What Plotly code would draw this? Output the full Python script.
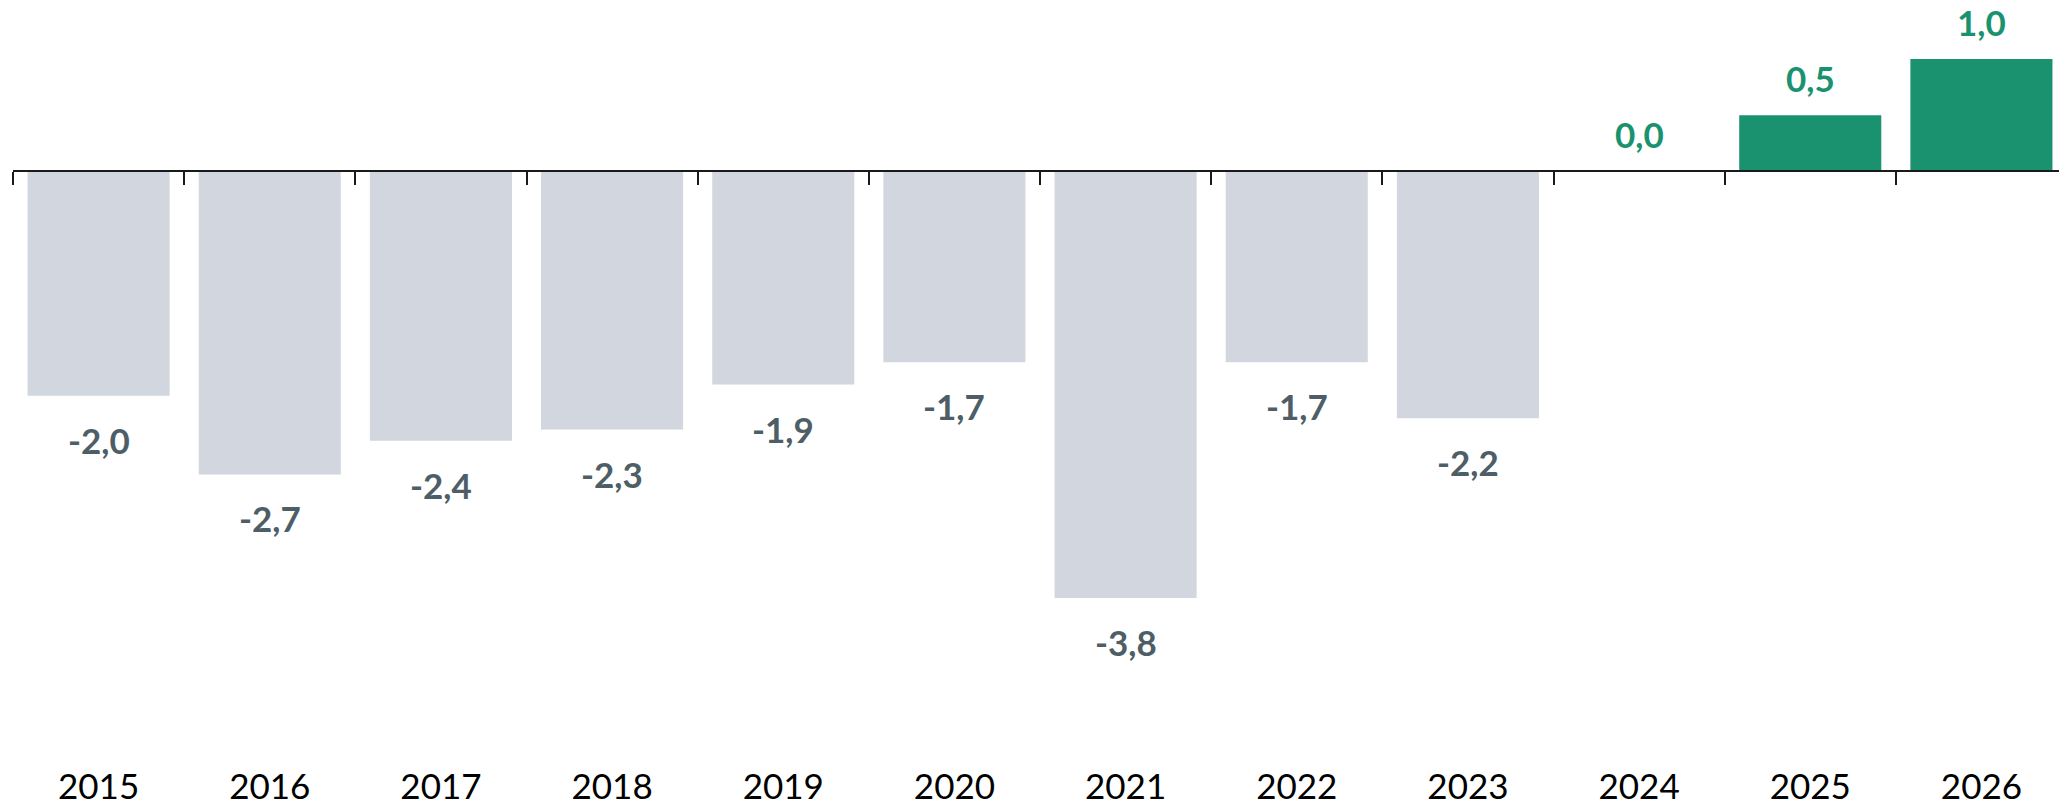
import plotly.graph_objects as go

# --- DATA ---
YEARS = ["2015", "2016", "2017", "2018", "2019", "2020",
         "2021", "2022", "2023", "2024", "2025", "2026"]
VALUES = [-2.0, -2.7, -2.4, -2.3, -1.9, -1.7, -3.8, -1.7, -2.2, 0.0, 0.5, 1.0]
FORECAST_FROM = "2024"  # these years and after are drawn in green

# --- STYLE ---
GREY_BAR = "#D1D6DF"
GREY_TEXT = "#4E5E67"
GREEN = "#1A9270"
FONT = "Lato"
Y_RANGE = [-5.271, 1.455]

is_forecast = [y >= FORECAST_FROM for y in YEARS]
bar_colors = [GREEN if f else GREY_BAR for f in is_forecast]
text_colors = [GREEN if f else GREY_TEXT for f in is_forecast]

fig = go.Figure()

fig.add_trace(go.Bar(
    x=YEARS, y=VALUES,
    marker_color=bar_colors, marker_line_width=0,
    hoverinfo="skip", showlegend=False,
))

# dummy trace so the zero-line axis (xaxis2) gets drawn
fig.add_trace(go.Scatter(
    x=[-0.5, len(YEARS) - 0.5], y=[0, 0], xaxis="x2",
    mode="lines", line=dict(width=0), hoverinfo="skip", showlegend=False,
))

# data labels, comma decimals like the original
# (category axis: annotation x must be the category index)
for i, (v, col) in enumerate(zip(VALUES, text_colors)):
    fig.add_annotation(
        x=i, y=v, text=f"<b>{v:.1f}</b>".replace(".", ","),
        showarrow=False, yanchor="middle",
        yshift=37 if v >= 0 else -44,
        font=dict(family=FONT, size=35, color=col),
    )

zero_pos = (0 - Y_RANGE[0]) / (Y_RANGE[1] - Y_RANGE[0])

# page body has an 8px margin, so the figure is a bit smaller than the window
fig.update_layout(
    width=2059, height=798,
    margin=dict(l=5, r=0, t=0, b=40),
    paper_bgcolor="white", plot_bgcolor="white",
    bargap=0.17,
    font=dict(family=FONT, size=35, color="black"),
    xaxis=dict(
        type="category", showline=False, showgrid=False, ticks="",
        tickfont=dict(family=FONT, size=35, color="black"),
        range=[-0.5, len(YEARS) - 0.5],
    ),
    xaxis2=dict(
        overlaying="x", anchor="free", position=zero_pos,
        range=[-0.5, len(YEARS) - 0.5],
        tickvals=[i - 0.5 for i in range(len(YEARS))],
        showticklabels=False, showgrid=False, zeroline=False,
        showline=True, linecolor="#1A1A1A", linewidth=2,
        ticks="outside", ticklen=13, tickwidth=2, tickcolor="#1A1A1A",
    ),
    yaxis=dict(range=Y_RANGE, visible=False, showgrid=False, zeroline=False),
)

fig.write_html("out.html")
